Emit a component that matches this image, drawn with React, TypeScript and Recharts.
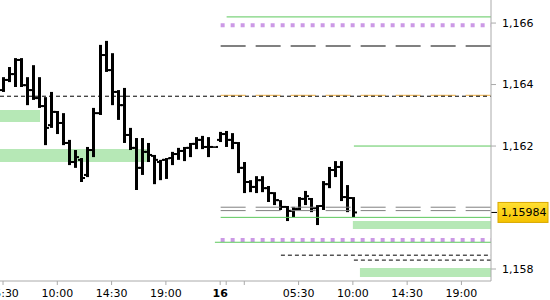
import React from 'react';
import { ComposedChart, Bar, XAxis, YAxis, ReferenceLine, ReferenceArea } from 'recharts';

// 30-minute OHLC bars (bar index = slot on the time axis)
const opens = [1.16382,1.16415,1.16434,1.16480,1.16398,1.16382,1.16356,1.16330,1.16268,1.16311,1.16275,1.16210,1.16148,1.16155,1.16106,1.16187,1.16307,1.16496,1.16447,1.16376,1.16333,1.16236,1.16194,1.16129,1.16181,1.16168,1.16148,1.16155,1.16161,1.16174,1.16184,1.16194,1.16207,1.16220,1.16197,1.16197,1.16220,1.16239,1.16220,1.16210,1.16129,1.16083,1.16067,1.16089,1.16063,1.16047,1.16024,1.16002,1.15989,1.15995,1.16028,1.16028,1.15998,1.16005,1.16076,1.16122,1.16132,1.16034,1.16031];
const highs = [1.16424,1.16457,1.16486,1.16486,1.16424,1.16463,1.16424,1.16359,1.16376,1.16314,1.16307,1.16220,1.16187,1.16161,1.16197,1.16324,1.16529,1.16542,1.16502,1.16382,1.16389,1.16259,1.16226,1.16226,1.16210,1.16171,1.16155,1.16161,1.16181,1.16194,1.16197,1.16210,1.16229,1.16233,1.16229,1.16199,1.16246,1.16249,1.16242,1.16213,1.16148,1.16089,1.16102,1.16102,1.16070,1.16050,1.16024,1.16005,1.16002,1.16034,1.16054,1.16031,1.16008,1.16086,1.16132,1.16151,1.16151,1.16073,1.16034];
const lows = [1.16376,1.16408,1.16392,1.16392,1.16333,1.16350,1.16324,1.16203,1.16259,1.16239,1.16203,1.16138,1.16129,1.16083,1.16099,1.16164,1.16301,1.16441,1.16333,1.16285,1.16210,1.16187,1.16057,1.16106,1.16148,1.16076,1.16089,1.16093,1.16138,1.16155,1.16151,1.16164,1.16190,1.16190,1.16164,1.16194,1.16213,1.16197,1.16190,1.16112,1.16047,1.16050,1.16047,1.16050,1.16018,1.16008,1.15992,1.15956,1.15969,1.15992,1.16008,1.15985,1.15943,1.15992,1.16063,1.16099,1.16021,1.15985,1.15969];
const closes = [1.16415,1.16434,1.16480,1.16398,1.16382,1.16356,1.16330,1.16259,1.16311,1.16275,1.16210,1.16148,1.16164,1.16096,1.16187,1.16307,1.16496,1.16447,1.16376,1.16333,1.16236,1.16194,1.16129,1.16181,1.16171,1.16155,1.16155,1.16160,1.16174,1.16184,1.16194,1.16207,1.16220,1.16197,1.16197,1.16197,1.16239,1.16220,1.16210,1.16129,1.16083,1.16067,1.16089,1.16063,1.16047,1.16024,1.16002,1.15989,1.15995,1.16028,1.16037,1.15998,1.16005,1.16076,1.16122,1.16132,1.16034,1.16031,1.15984];

// time axis ticks (bar slots) and their labels
const tickSlots = [0, 9, 18, 27, 36, 37, 40, 49, 58, 67, 76];
const tickLabels = ['05:30', '10:00', '14:30', '19:00', '16', '', '', '05:30', '10:00', '14:30', '19:00'];
const priceTicks = [1.158, 1.162, 1.164, 1.166];

// horizontal levels: price, starting slot, kind
const levelPrices = [1.16620, 1.16593, 1.16525, 1.16365, 1.16362, 1.16200, 1.16001, 1.15990, 1.15968, 1.15894, 1.15887, 1.15845, 1.15829];
const levelStarts = [37.07, 36.08, 36.08, 36.08, -0.5, 58.17, 36.08, 36.08, 36.08, 36.08, 35.13, 46.07, 58.17];
const levelKinds = ['green', 'purple', 'grayLong', 'orange', 'black', 'green', 'grayThin', 'grayThin', 'green', 'purple', 'green', 'black', 'black'];

// zones
const zoneLows = [1.16278, 1.16148, 1.15930, 1.15774];
const zoneHighs = [1.16317, 1.16190, 1.15956, 1.15803];
const zoneStarts = [-0.5, -0.5, 58.0, 59.17];
const zoneEnds = [6.13, 24.03, 80.9, 80.9];

const lastPrice = 1.15984;

const X_MIN = -0.5;
const X_MAX = 80.9;

const kindStyle: Record<string, any> = {
  green: { stroke: '#5cc85c', strokeWidth: 1 },
  purple: { stroke: '#cc99e6', strokeWidth: 4, strokeDasharray: '4 6' },
  grayLong: { stroke: '#808080', strokeWidth: 2, strokeDasharray: '25 10' },
  orange: { stroke: '#f0b040', strokeWidth: 1, strokeDasharray: '25 10' },
  black: { stroke: '#000000', strokeWidth: 1, strokeDasharray: '4 3' },
  grayThin: { stroke: '#808080', strokeWidth: 1, strokeDasharray: '25 10' },
};

const data = opens.map((o, i) => ({
  slot: i,
  open: o,
  high: highs[i],
  low: lows[i],
  close: closes[i],
  range: [lows[i], highs[i]],
}));

const OhlcShape = (props: any) => {
  const { x, y, width, height, payload } = props;
  if (x == null || y == null || !payload) return null;
  const cx = Math.floor(x + width / 2) + 0.5;
  const top = Math.min(y, y + height);
  const h = Math.max(Math.abs(height), 1.5);
  const span = payload.high - payload.low || 1;
  const yO = top + ((payload.high - payload.open) / span) * h;
  const yC = top + ((payload.high - payload.close) / span) * h;
  return (
    <g>
      <rect x={cx - 1.5} y={top} width={3} height={h} fill="#000" />
      <rect x={cx - 3.5} y={yO - 1} width={2} height={2} fill="#000" />
      <rect x={cx + 1.5} y={yC - 1} width={2} height={2} fill="#000" />
    </g>
  );
};

const XTick = (props: any) => {
  const { x, y, payload } = props;
  const idx = tickSlots.indexOf(payload.value);
  const label = idx >= 0 ? tickLabels[idx] : '';
  return (
    <text x={x} y={y} dy="0.71em" textAnchor="middle" fontSize={11} fill="#000"
      fontFamily="DejaVu Sans" fontWeight={label === '16' ? 'bold' : 'normal'}>
      {label}
    </text>
  );
};

const fmtPrice = (v: number, d: number) => v.toFixed(d).replace('.', ',');

const PriceTag = (props: any) => {
  const vb = props.viewBox || {};
  const right = (vb.x || 0) + (vb.width || 0);
  const cy = vb.y || 0;
  return (
    <g>
      <defs>
        <linearGradient id="pt" x1="0" y1="0" x2="0" y2="1">
          <stop offset="0%" stopColor="#ffe033" />
          <stop offset="100%" stopColor="#f5c200" />
        </linearGradient>
      </defs>
      <line x1={right} x2={right + 6} y1={cy} y2={cy} stroke="#000" strokeWidth={1} />
      <rect x={right + 7} y={cy - 10} width={50} height={20} fill="url(#pt)" stroke="#d9a800" strokeWidth={1} />
      <text x={right + 10} y={cy} dy="0.355em" fontSize={11} fill="#000" fontFamily="DejaVu Sans">
        {fmtPrice(lastPrice, 5)}
      </text>
    </g>
  );
};

export default function App() {
  return (
    <div style={{ position: 'absolute', left: 0, top: 0, width: 550, height: 300, background: '#fff' }}>
      <ComposedChart width={550} height={300} data={data}
        margin={{ top: 0, right: 0, bottom: 0, left: 0 }}
        style={{ fontFamily: 'DejaVu Sans' }}>
        <XAxis dataKey="slot" type="number" domain={[X_MIN, X_MAX]} allowDataOverflow
          ticks={tickSlots} interval={0} height={19} tickSize={4} tickMargin={4}
          stroke="#aaaaaa" tickLine={{ stroke: '#aaaaaa' }} tick={<XTick />} />
        <YAxis orientation="right" type="number" domain={[1.15761, 1.16675]} allowDataOverflow
          ticks={priceTicks} interval={0} width={59} tickSize={5} tickMargin={6}
          stroke="#aaaaaa" tickLine={{ stroke: '#aaaaaa' }}
          tick={{ fontSize: 11, fill: '#000', fontFamily: 'DejaVu Sans' }}
          tickFormatter={(v: number) => fmtPrice(v, 3)} />
        {zoneLows.map((lo, i) => (
          <ReferenceArea key={'z' + i} x1={zoneStarts[i]} x2={zoneEnds[i]} y1={lo} y2={zoneHighs[i]}
            fill="#b6e8b6" fillOpacity={1} stroke="none" ifOverflow="extendDomain" />
        ))}
        {levelPrices.map((p, i) => (
          <ReferenceLine key={'l' + i}
            segment={[{ x: levelStarts[i], y: p }, { x: X_MAX, y: p }]}
            {...kindStyle[levelKinds[i]]} ifOverflow="extendDomain" />
        ))}
        <Bar dataKey="range" barSize={3} shape={<OhlcShape />} isAnimationActive={false} />
        <ReferenceLine y={lastPrice} stroke="none" ifOverflow="visible" label={<PriceTag />} />
      </ComposedChart>
    </div>
  );
}
